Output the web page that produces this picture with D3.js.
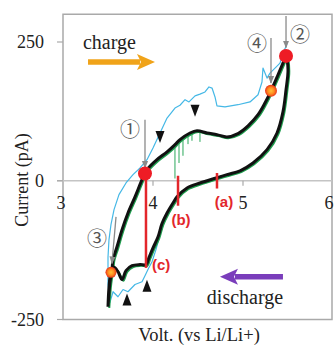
<!DOCTYPE html>
<html>
<head>
<meta charset="utf-8">
<script src="https://cdn.jsdelivr.net/npm/d3@7"></script>
<style>
html,body{margin:0;padding:0;background:#fff;}
svg{display:block;}
</style>
</head>
<body>
<svg id="chart" width="335" height="347"></svg>
<script>
// ---------- data ----------
const xTicks = [3, 4, 5, 6];
const yTicks = [250, 0, -250];
const xLabel = "Volt. (vs Li/Li+)";
const yLabel = "Current (pA)";

// main CV loop (black) : [V, pA]
const blackVolt = [3.50,3.522,3.544,3.556,3.60,3.656,3.722,3.80,3.878,3.911,3.933,4.044,4.156,4.244,4.30,4.411,4.489,4.60,4.711,4.822,4.944,5.056,5.167,5.244,5.311,5.389,5.444,5.478,5.50,5.478,5.444,5.378,5.267,5.111,4.967,4.822,4.70,4.522,4.378,4.267,4.222,4.156,4.10,4.056,4.00,3.956,3.922,3.856,3.767,3.70,3.656,3.611,3.567,3.533,3.511,3.50];
const blackCurr = [-227,-183,-160,-142,-119,-88,-58,-29,2,13,20,38,52,65,74,86,90,86,83,79,85,99,119,140,162,191,212,225,200,164,124,86,56,32,18,11,5,-4,-13,-29,-40,-58,-77,-101,-121,-138,-151,-151,-153,-162,-178,-164,-156,-165,-192,-227];

// green spikes on the charge hump: [V, top pA, bottom pA]
const spikeVolt = [4.244,4.289,4.333,4.389,4.433,4.522];
const spikeTop  = [63,70,76,85,88,90];
const spikeBot  = [4,32,45,66,72,70];

// light-blue cycle
const cyanVolt = [4.211,4.133,4.078,4.033,3.989,3.944,3.911,3.878,3.80,3.722,3.667,3.611,3.556,3.522,3.50,3.50,3.511,3.533,3.567,3.622,3.70,3.778,3.856,3.933,4.00,4.078,4.156,4.244,4.30,4.356,4.40,4.467,4.522,4.578,4.622,4.656,4.689,4.711,4.80,4.944,5.078,5.167,5.211,5.222,5.267,5.30,5.411,5.444,5.489];
const cyanCurr = [-43,-70,-97,-124,-146,-160,-171,-182,-187,-200,-196,-209,-200,-219,-187,-138,-106,-79,-52,-25,-4,11,23,38,59,86,113,131,136,146,142,153,156,160,169,167,151,135,133,137,142,155,178,203,185,194,212,230,246];

// marked points
const ptLabel = ["①","②","③","④"];
const ptVolt  = [3.911,5.478,3.533,5.311];
const ptCurr  = [13,225,-165,162];
const ptKind  = ["red","red","orange","orange"];
const ptR     = [7,7,5.5,6];
// circled-number label positions and arrow starts
const numVolt = [3.744,5.633,3.378,5.156];
const numCurr = [95,266,-103,250];
const arrFromV = [3.911,5.478,3.589,5.311];
const arrFromI = [110,297,-65,257];
const arrToV   = [3.911,5.478,3.544,5.311];
const arrToI   = [23,240,-149,176];

// red markers (a) (b) (c)
const mkName = ["(a)","(b)","(c)"];
const mkVolt = [4.711,4.278,3.922];
const mkTop  = [14,9,13];
const mkBot  = [-14,-45,-157];
const mkLabV = [4.789,4.311,3.989];
const mkLabI = [-37,-69,-151];

// triangles
const triDownV = [4.078,4.467];
const triDownI = [79,126];
const triUpV = [3.933,3.711];
const triUpI = [-189,-214];

// ---------- scales ----------
const svg = d3.select("#chart");
const x = d3.scaleLinear().domain([3,6]).range([63,333]);
const y = d3.scaleLinear().domain([-250,250]).range([319.5,42]);
const yTop = 300;

const serif = "'Liberation Serif','Times New Roman',serif";

// frame
svg.append("rect")
  .attr("x", x(3)).attr("y", y(yTop))
  .attr("width", x(6)-x(3)-1).attr("height", y(-250)-y(yTop))
  .attr("fill","none").attr("stroke","#a9a9a9").attr("stroke-width",1.5);

// zero line
svg.append("line")
  .attr("x1", x(3)-6).attr("x2", x(6)-1).attr("y1", y(0)).attr("y2", y(0))
  .attr("stroke","#c4c4c4").attr("stroke-width",1.5);

// y ticks
yTicks.forEach(t=>{
  svg.append("line").attr("x1",x(3)-6).attr("x2",x(3)).attr("y1",y(t)).attr("y2",y(t))
    .attr("stroke","#a9a9a9").attr("stroke-width",1.2);
  svg.append("text").attr("x",44).attr("y",y(t)).attr("text-anchor","end")
    .attr("dominant-baseline","central").attr("font-family",serif).attr("font-size",18)
    .attr("fill","#222").text(t);
});
// x ticks
xTicks.forEach(t=>{
  if(t>3 && t<6){
    svg.append("line").attr("x1",x(t)).attr("x2",x(t)).attr("y1",y(0)).attr("y2",y(0)+5)
      .attr("stroke","#a9a9a9").attr("stroke-width",1.2);
  }
  svg.append("text").attr("x",x(t)-(t===3?2:(t===6?4:0))).attr("y",y(0)+22).attr("text-anchor","middle")
    .attr("dominant-baseline","central").attr("font-family",serif).attr("font-size",18)
    .attr("fill","#222").text(t);
});

// axis titles
svg.append("text").attr("x",199).attr("y",335).attr("text-anchor","middle")
  .attr("dominant-baseline","central").attr("font-family",serif).attr("font-size",18.5)
  .attr("fill","#222").text(xLabel);
svg.append("text").attr("transform","translate(22,180) rotate(-90)").attr("text-anchor","middle")
  .attr("dominant-baseline","central").attr("font-family",serif).attr("font-size",18)
  .attr("fill","#222").text(yLabel);

// ---------- curves ----------
const cyan = d3.zip(cyanVolt,cyanCurr);
const black = d3.zip(blackVolt,blackCurr);
const lineLin = d3.line().x(d=>x(d[0])).y(d=>y(d[1]));
const lineSm = d3.line().x(d=>x(d[0])).y(d=>y(d[1])).curve(d3.curveCatmullRom.alpha(0.5));

svg.append("path").attr("d",lineLin(cyan)).attr("fill","none")
  .attr("stroke","#45b8e6").attr("stroke-width",1.2).attr("stroke-linejoin","round");

svg.append("path").attr("d",lineSm(black)).attr("fill","none")
  .attr("stroke","#1f9e4e").attr("stroke-width",2).attr("transform","translate(1.3,1.3)");

spikeVolt.forEach((v,i)=>{
  svg.append("line").attr("x1",x(v)).attr("x2",x(v)).attr("y1",y(spikeTop[i])).attr("y2",y(spikeBot[i]))
    .attr("stroke","#2aa85a").attr("stroke-width",1);
});

svg.append("path").attr("d",lineSm(black)).attr("fill","none")
  .attr("stroke","#111").attr("stroke-width",3).attr("stroke-linejoin","round");

// red markers
mkName.forEach((n,i)=>{
  svg.append("line").attr("x1",x(mkVolt[i])).attr("x2",x(mkVolt[i]))
    .attr("y1",y(mkTop[i])).attr("y2",y(mkBot[i]))
    .attr("stroke","#e3262b").attr("stroke-width",2.5);
  svg.append("text").attr("x",x(mkLabV[i])).attr("y",y(mkLabI[i]))
    .attr("text-anchor", i===2?"start":"middle").attr("dominant-baseline","central")
    .attr("font-family","'Liberation Sans',Arial,sans-serif").attr("font-weight","bold")
    .attr("font-size",15).attr("fill","#e3262b").text(n);
});

// triangles
const triDown = d3.zip(triDownV,triDownI), triUp = d3.zip(triUpV,triUpI);
triDown.forEach(d=>{
  const cx=x(d[0]), cy=y(d[1]);
  svg.append("path").attr("d",`M${cx-4.5},${cy-6}L${cx+4.5},${cy-6}L${cx},${cy+6}Z`).attr("fill","#111");
});
triUp.forEach(d=>{
  const cx=x(d[0]), cy=y(d[1]);
  svg.append("path").attr("d",`M${cx-4.5},${cy+6}L${cx+4.5},${cy+6}L${cx},${cy-6}Z`).attr("fill","#111");
});

// gray arrows
const defs = svg.append("defs");
defs.append("marker").attr("id","ah").attr("viewBox","0 0 10 10").attr("refX",9).attr("refY",5)
  .attr("markerWidth",6).attr("markerHeight",6).attr("orient","auto-start-reverse")
  .append("path").attr("d","M0,1L10,5L0,9Z").attr("fill","#8a8a8a");
const grad = defs.append("radialGradient").attr("id","og");
grad.append("stop").attr("offset","0%").attr("stop-color","#ffc23a");
grad.append("stop").attr("offset","55%").attr("stop-color","#ff8a1e");
grad.append("stop").attr("offset","100%").attr("stop-color","#e8321a");

ptLabel.forEach((l,i)=>{
  svg.append("line").attr("x1",x(arrFromV[i])).attr("y1",y(arrFromI[i]))
    .attr("x2",x(arrToV[i])).attr("y2",y(arrToI[i]))
    .attr("stroke","#8a8a8a").attr("stroke-width",1.3).attr("marker-end","url(#ah)");
  svg.append("text").attr("x",x(numVolt[i])).attr("y",y(numCurr[i]))
    .attr("text-anchor","middle").attr("dominant-baseline","central")
    .attr("font-family","'Noto Sans CJK JP','DejaVu Sans',sans-serif").attr("font-size",20)
    .attr("fill","#555").text(l);
});

// points
ptLabel.forEach((l,i)=>{
  svg.append("circle").attr("cx",x(ptVolt[i])).attr("cy",y(ptCurr[i])).attr("r",ptR[i])
    .attr("fill", ptKind[i]==="red" ? "#ee1c25" : "url(#og)");
});

// charge / discharge annotations
svg.append("text").attr("x",x(3.222)).attr("y",y(250)).attr("dominant-baseline","central")
  .attr("font-family",serif).attr("font-size",20).attr("fill","#222").text("charge");
svg.append("text").attr("x",x(5.022)).attr("y",y(-210)).attr("text-anchor","middle")
  .attr("dominant-baseline","central").attr("font-family",serif).attr("font-size",20)
  .attr("fill","#222").text("discharge");

function bigArrow(v1, v2, i, color){
  const x1=x(v1), x2=x(v2), yy=y(i);
  const dir = Math.sign(x2-x1);
  const hx = x2 - dir*15;
  svg.append("line").attr("x1",x1).attr("x2",hx).attr("y1",yy).attr("y2",yy)
    .attr("stroke",color).attr("stroke-width",5.5);
  svg.append("path").attr("d",`M${hx-dir*3},${yy-8}L${x2},${yy}L${hx-dir*3},${yy+8}L${hx+dir*1},${yy}Z`).attr("fill",color);
}
bigArrow(3.278, 4.022, 214, "#f0a319");
bigArrow(5.444, 4.744, -173, "#7a3dbb");
</script>
</body>
</html>
